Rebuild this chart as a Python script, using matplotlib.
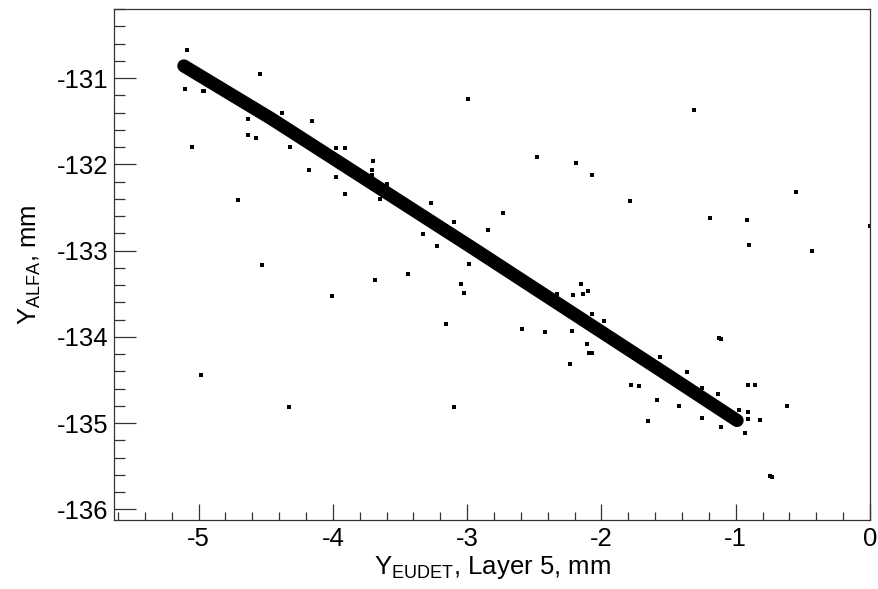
import matplotlib
matplotlib.use('Agg')
import matplotlib.pyplot as plt
from matplotlib.ticker import MultipleLocator

plt.rcParams['font.family'] = ['Liberation Sans', 'DejaVu Sans']
plt.rcParams['mathtext.fontset'] = 'custom'
plt.rcParams['mathtext.rm'] = 'Liberation Sans'
plt.rcParams['axes.unicode_minus'] = False

# dense correlation band, read as its centre line along the track
band_x = [-5.11, -4.46, -3.71, -2.96, -2.23, -1.48, -0.99]
band_y = [-130.86, -131.47, -132.22, -132.97, -133.71, -134.47, -134.97]

# single entries off (or at the edge of) the band
out_x = [-5.086, -5.10, -5.047, -4.97, -4.54, -4.63, -4.57, -4.38, -4.71, -4.53,
         -4.985, -4.33, -4.156, -2.994, -4.18, -3.98, -3.91, -3.98, -3.91, -3.70,
         -3.71, -3.71, -3.60, -2.478, -2.186, -2.074, -3.267, -2.731, -2.843, -3.096,
         -3.327, -3.228, -3.44, -3.69, -4.004, -3.044, -3.027, -2.99, -2.153, -2.215,
         -2.14, -2.10, -2.33, -1.313, -1.79, -0.555, -1.192, -0.918, -0.90, -0.434,
         0.0, -3.156, -3.096, -2.59, -2.418, -2.222, -2.11, -2.096, -2.07, -2.235,
         -2.07, -1.125, -1.11, -1.78, -1.72, -1.587, -1.65, -1.426, -1.366, -1.254,
         -1.112, -0.91, -0.86, -0.62, -0.91, -0.82, -0.93, -0.745, -0.73, -4.96,
         -4.63, -4.317, -3.65, -1.98, -1.567, -1.25, -1.13, -0.977, -0.91]
out_y = [-130.68, -131.13, -131.80, -131.15, -130.95, -131.66, -131.69, -131.41, -132.41, -133.17,
         -134.445, -134.81, -131.50, -131.24, -132.07, -132.15, -132.35, -131.81, -131.81, -131.96,
         -132.07, -132.13, -132.23, -131.91, -131.98, -132.13, -132.45, -132.56, -132.76, -132.67,
         -132.81, -132.95, -133.27, -133.34, -133.53, -133.39, -133.49, -133.16, -133.39, -133.52,
         -133.50, -133.47, -133.50, -131.37, -132.42, -132.32, -132.62, -132.65, -132.94, -133.01,
         -132.715, -133.85, -134.81, -133.91, -133.94, -133.93, -134.08, -134.19, -134.19, -134.32,
         -133.73, -134.01, -134.03, -134.56, -134.57, -134.73, -134.98, -134.80, -134.41, -134.94,
         -135.04, -134.56, -134.56, -134.80, -134.87, -134.96, -135.11, -135.61, -135.63, -131.15,
         -131.475, -131.80, -132.40, -133.82, -134.23, -134.59, -134.665, -134.85, -134.95]

x_ticks = [-5, -4, -3, -2, -1, 0]
y_ticks = [-136, -135, -134, -133, -132, -131]

fig = plt.figure(figsize=(8.79, 5.89), dpi=100)
ax = fig.add_axes([0.1297, 0.1171, 0.8601, 0.8676])

ax.plot(band_x, band_y, '-', color='black', linewidth=9.5,
        solid_capstyle='round', solid_joinstyle='round')
ax.plot(out_x, out_y, 's', color='black', markersize=2.9, markeredgewidth=0)

ax.set_xlim(-5.63, 0.0)
ax.set_ylim(-136.124, -130.2)
ax.set_xticks(x_ticks)
ax.set_yticks(y_ticks)
ax.xaxis.set_minor_locator(MultipleLocator(0.2))
ax.yaxis.set_minor_locator(MultipleLocator(0.2))

ax.tick_params(which='both', direction='in', top=False, right=False,
               labelsize=18.5, color='#333333', width=0.9)
ax.tick_params(axis='x', which='major', length=11.5, pad=5)
ax.tick_params(axis='x', which='minor', length=5.8)
ax.tick_params(axis='y', which='major', length=16, pad=4)
ax.tick_params(axis='y', which='minor', length=8)

for sp in ax.spines.values():
    sp.set_color('#333333')
    sp.set_linewidth(0.9)

ax.set_xlabel(r'$\mathregular{Y_{EUDET}}$, Layer 5, mm', fontsize=18.5, labelpad=2)
ax.set_ylabel(r'$\mathregular{Y_{ALFA}}$, mm', fontsize=18.5, labelpad=10)

fig.savefig('out.png', dpi=100)
